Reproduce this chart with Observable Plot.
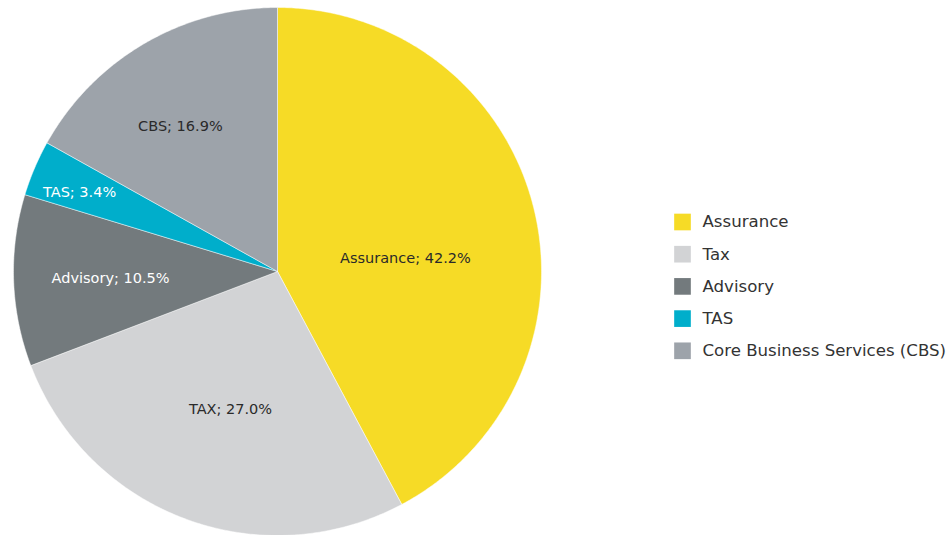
<!DOCTYPE html>
<html>
<head>
<meta charset="utf-8">
<script src="https://cdn.jsdelivr.net/npm/d3@7"></script>
<script src="https://cdn.jsdelivr.net/npm/@observablehq/plot@0.6"></script>
<style>
  html, body { margin: 0; padding: 0; background: #fff; }
  #chart svg { display: block; }
</style>
</head>
<body>
<div id="chart"></div>
<script>
// ---- data ----
const categories = ["Assurance", "Tax", "Advisory", "TAS", "Core Business Services (CBS)"];
const sliceLabels = ["Assurance", "TAX", "Advisory", "TAS", "CBS"];
const shares = [42.2, 27.0, 10.5, 3.4, 16.9];
const colors = ["#F6DB26", "#D2D3D5", "#737A7D", "#00AECB", "#9DA3AA"];
const labelColors = ["#2a2a2a", "#2a2a2a", "#ffffff", "#ffffff", "#2a2a2a"];

// ---- layout (label placement in polar terms, legend in px) ----
const labelRadius = [0.487, 0.552, 0.633, 0.807, 0.661];
const labelShiftDeg = [8.2, -1.7, -0.4, -1.3, -3.4];
const W = 947, H = 535;
const cx = 277, cy = 271, R = 264;

// scales: unit circle centred at (cx, cy) with radius R px
const xDomain = [(0 - cx) / R, (W - cx) / R];
const yDomain = [(cy - H) / R, cy / R];

const pie = d3.pie().sort(null).value(d => d.value).startAngle(0).endAngle(2 * Math.PI);
const arcs = pie(categories.map((c, i) => ({cat: c, value: shares[i], i})));

// slice polygons
const poly = [];
for (const a of arcs) {
  const n = Math.max(2, Math.ceil((a.endAngle - a.startAngle) / (Math.PI / 360)));
  poly.push({cat: a.data.cat, x: 0, y: 0});
  for (let k = 0; k <= n; k++) {
    const t = a.startAngle + (a.endAngle - a.startAngle) * k / n;
    poly.push({cat: a.data.cat, x: Math.sin(t), y: Math.cos(t)});
  }
  poly.push({cat: a.data.cat, x: 0, y: 0});
}

// slice labels
const labels = arcs.map((a, i) => {
  const mid = (a.startAngle + a.endAngle) / 2 + labelShiftDeg[i] * Math.PI / 180;
  return {
    text: `${sliceLabels[i]}; ${shares[i].toFixed(1)}%`,
    x: labelRadius[i] * Math.sin(mid),
    y: labelRadius[i] * Math.cos(mid),
    color: labelColors[i]
  };
});

// legend (px → data units)
const px2x = px => (px - cx) / R;
const py2y = py => (cy - py) / R;
const legend = categories.map((c, i) => ({
  cat: c,
  sx: px2x(682), tx: px2x(702),
  y: py2y(221.5 + i * 32.2)
}));

const plot = Plot.plot({
  width: W, height: H,
  margin: 0,
  x: {domain: xDomain, range: [0, W], axis: null},
  y: {domain: yDomain, range: [H, 0], axis: null},
  color: {domain: categories, range: colors},
  style: {fontFamily: "'DejaVu Sans', sans-serif", background: "#fff"},
  marks: [
    Plot.line(poly, {x: "x", y: "y", z: "cat", fill: "cat", stroke: "#ffffff", strokeWidth: 0.6, strokeOpacity: 0.8, strokeLinejoin: "round", curve: "linear"}),
    Plot.text(labels, {x: "x", y: "y", text: "text", fill: d => d.color, fontSize: 14.5, textAnchor: "middle"}),
    Plot.dot(legend, {x: "sx", y: "y", fill: "cat", symbol: "square", r: 9.4, stroke: null}),
    Plot.text(legend, {x: "tx", y: "y", text: "cat", fill: "#333333", fontSize: 16.6, textAnchor: "start"})
  ]
});
document.getElementById("chart").appendChild(plot);
</script>
</body>
</html>
